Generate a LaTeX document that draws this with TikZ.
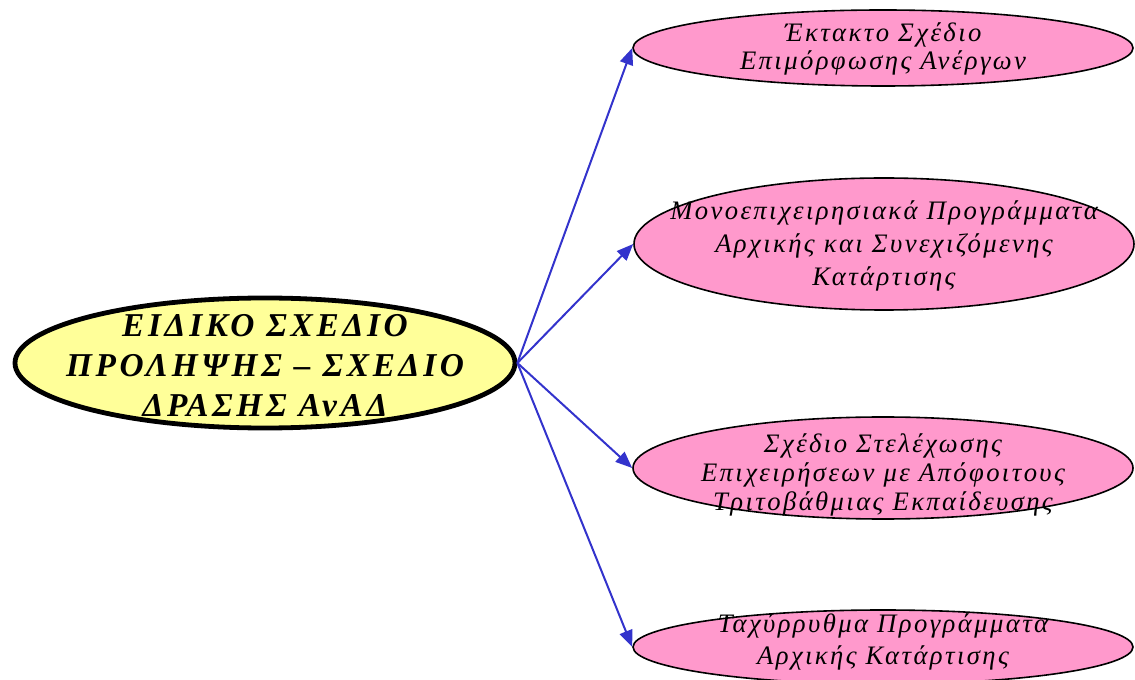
\documentclass[tikz,border=0pt]{standalone}
\usepackage{fontspec}
\setmainfont{Liberation Serif}
\usetikzlibrary{shapes.geometric,arrows.meta}
\definecolor{yel}{HTML}{FFFF99}
\definecolor{pnk}{HTML}{FF99CC}
\definecolor{arr}{HTML}{3333CC}
\tikzset{
  mainell/.style={ellipse,draw=black,fill=yel,line width=3.6pt,inner sep=0pt,minimum width=500*0.75pt,minimum height=130*0.75pt},
  subell/.style={ellipse,draw=black,fill=pnk,line width=1.2pt,inner sep=0pt,minimum width=500*0.75pt},
  maintxt/.style={align=center,inner sep=0pt,font=\fontsize{25}{30}\selectfont\bfseries\itshape\addfontfeatures{LetterSpace=11}},
  subtxt/.style={align=center,inner sep=0pt,font=\fontsize{20}{21.5}\selectfont\itshape\addfontfeatures{LetterSpace=9}},
  conn/.style={draw=arr,line width=1.5pt,-{Triangle[length=12.5pt,width=10pt]}}
}
\begin{document}
\begin{tikzpicture}[x=0.75pt,y=-0.75pt]
\useasboundingbox (0,0) rectangle (1135,680);
\node[mainell] (m) at (265,363) {};
\node[subell,minimum height=76*0.75pt] (e1) at (883,48) {};
\node[subell,minimum height=132*0.75pt] (e2) at (884,244) {};
\node[subell,minimum height=102*0.75pt] (e3) at (883,468) {};
\node[subell,minimum height=74*0.75pt] (e4) at (883,647) {};
\node[maintxt] (mt) at (265,366) {ΕΙΔΙΚΟ ΣΧΕΔΙΟ\\ΠΡΟΛΗΨΗΣ – ΣΧΕΔΙΟ\\ΔΡΑΣΗΣ ΑνΑΔ};
\node[subtxt] (t1) at (883,49) {Έκτακτο Σχέδιο\\Επιμόρφωσης Ανέργων};
\node[subtxt,font=\fontsize{20}{25}\selectfont\itshape\addfontfeatures{LetterSpace=9}] (t2) at (884,246) {Μονοεπιχειρησιακά Προγράμματα\\Αρχικής και Συνεχιζόμενης\\Κατάρτισης};
\node[subtxt] (t3) at (883,475) {Σχέδιο Στελέχωσης\\Επιχειρήσεων με Απόφοιτους\\Τριτοβάθμιας Εκπαίδευσης};
\node[subtxt,font=\fontsize{20}{24}\selectfont\itshape\addfontfeatures{LetterSpace=9}] (t4) at (883,642) {Ταχύρρυθμα Προγράμματα\\Αρχικής Κατάρτισης};
\draw[conn] (m.east) -- (e1.west);
\draw[conn] (m.east) -- (e2.west);
\draw[conn] (m.east) -- (e3.west);
\draw[conn] (m.east) -- (e4.west);
\end{tikzpicture}
\end{document}
